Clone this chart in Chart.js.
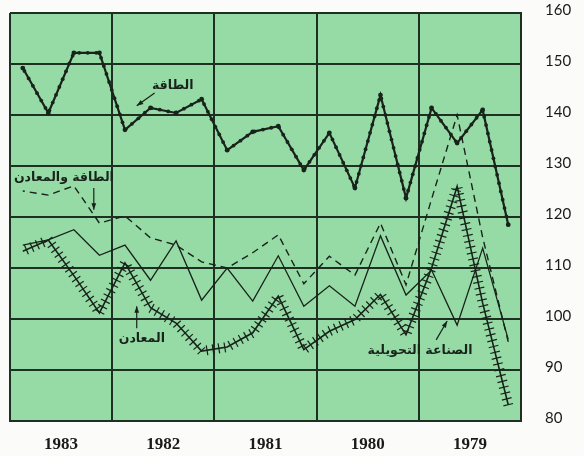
<!DOCTYPE html>
<html lang="ar">
<head>
<meta charset="utf-8">
<script src="https://cdn.jsdelivr.net/npm/chart.js@4"></script>
<style>
  html, body { margin: 0; padding: 0; background: #fbfcfa; }
  #wrap { width: 584px; height: 456px; }
</style>
</head>
<body>
<div id="wrap"><canvas id="indexChart" width="584" height="456"></canvas></div>
<script>
// سنوات المحور (من الأقدم إلى الأحدث، تُعرض من اليمين إلى اليسار)
const years = ["1979", "1980", "1981", "1982", "1983"];
// أرباع السنوات
const quarters = [];
years.forEach((y) => {
  for (let q = 1; q <= 4; q++) quarters.push(y + " ر" + q);
});
const yTicks = [80, 90, 100, 110, 120, 130, 140, 150, 160];

// الأرقام القياسية الفصلية
const energy = [118.5, 141.0, 134.5, 141.4, 123.7, 143.9, 125.7, 136.5, 129.2, 137.8,
  136.7, 133.1, 143.1, 140.4, 141.4, 137.1, 152.2, 152.2, 140.4, 149.2];
const energyMinerals = [95.5, 116, 140, 123.5, 106.7, 118.8, 108.6, 112.3, 106.9, 116.5,
  113, 110, 111.2, 114.5, 115.9, 120.2, 118.8, 126.1, 124.3, 125.1];
const manufacturing = [96, 113.9, 98.8, 109.6, 104.7, 116.3, 102.5, 106.5, 102.5, 112.4,
  103.5, 110, 103.7, 115.3, 107.6, 114.5, 112.5, 117.5, 115.5, 114.5];
const minerals = [83.2, 103.1, 126, 110, 96.9, 104.8, 99.9, 97.6, 94, 104.5,
  97.3, 94.5, 93.7, 99.2, 102.2, 111, 101.2, 108.5, 115.5, 113.3];

const ink = "#18231a";
const gridInk = "#1d3022";

// خلفية منطقة الرسم
const plotBg = {
  id: "plotBg",
  beforeDraw(chart) {
    const { ctx, chartArea: a } = chart;
    ctx.save();
    ctx.fillStyle = "#96daa6";
    ctx.fillRect(a.left, a.top, a.right - a.left, a.bottom - a.top);
    ctx.restore();
  },
};

// يمشي على مسار الخط ويستدعي fn كل step بكسل
function walkPath(pts, step, fn) {
  let carry = 0;
  for (let i = 0; i < pts.length - 1; i++) {
    const p = pts[i], n = pts[i + 1];
    const dx = n.x - p.x, dy = n.y - p.y;
    const len = Math.hypot(dx, dy);
    let d = carry;
    while (d < len) {
      fn(p.x + (dx * d) / len, p.y + (dy * d) / len, dx / len, dy / len);
      d += step;
    }
    carry = d - len;
  }
}

// نقاط خط الطاقة والشرطات العرضية لخط المعادن
const lineMarks = {
  id: "lineMarks",
  afterDatasetsDraw(chart) {
    const { ctx } = chart;
    ctx.save();
    const dots = chart.getDatasetMeta(0).data;
    ctx.fillStyle = ink;
    walkPath(dots, 8.5, (x, y) => {
      ctx.beginPath();
      ctx.arc(x, y, 1.9, 0, Math.PI * 2);
      ctx.fill();
    });
    const cross = chart.getDatasetMeta(3).data;
    ctx.strokeStyle = ink;
    ctx.lineWidth = 1.2;
    walkPath(cross, 6, (x, y, ux, uy) => {
      const h = 5;
      ctx.beginPath();
      ctx.moveTo(x - uy * h, y + ux * h);
      ctx.lineTo(x + uy * h, y - ux * h);
      ctx.stroke();
    });
    ctx.restore();
  },
};

// التسميات والأسهم
const notes = [
  { text: "الطاقة", at: [13.13, 145.7], arrow: [[13.84, 144.3], [14.54, 141.8]] },
  { text: "الطاقة والمعادن", at: [17.39, 127.6], arrow: [[16.22, 125.7], [16.22, 121.4]] },
  { text: "المعادن", at: [14.34, 96.1], arrow: [[14.54, 98.2], [14.54, 102.5]] },
  { text: "الصناعة التحويلية", at: [3.45, 93.7], arrow: [[2.82, 95.9], [2.39, 99.6]] },
];

const annotate = {
  id: "annotate",
  afterDraw(chart) {
    const { ctx } = chart;
    const sx = chart.scales.q, sy = chart.scales.y;
    const px = (p) => [sx.getPixelForValue(p[0]), sy.getPixelForValue(p[1])];
    ctx.save();
    ctx.fillStyle = ink;
    ctx.strokeStyle = ink;
    ctx.font = "bold 12.5px 'DejaVu Sans'";
    ctx.textAlign = "center";
    ctx.textBaseline = "middle";
    ctx.direction = "rtl";
    notes.forEach((n) => {
      const [tx, ty] = px(n.at);
      ctx.fillText(n.text, tx, ty);
      const [x0, y0] = px(n.arrow[0]);
      const [x1, y1] = px(n.arrow[1]);
      ctx.lineWidth = 1.2;
      ctx.beginPath();
      ctx.moveTo(x0, y0);
      ctx.lineTo(x1, y1);
      ctx.stroke();
      const ang = Math.atan2(y1 - y0, x1 - x0);
      ctx.beginPath();
      ctx.moveTo(x1, y1);
      ctx.lineTo(x1 - 7 * Math.cos(ang - 0.35), y1 - 7 * Math.sin(ang - 0.35));
      ctx.lineTo(x1 - 7 * Math.cos(ang + 0.35), y1 - 7 * Math.sin(ang + 0.35));
      ctx.closePath();
      ctx.fill();
    });
    ctx.restore();
  },
};

const ctx = document.getElementById("indexChart").getContext("2d");

new Chart(ctx, {
  type: "line",
  data: {
    labels: quarters,
    datasets: [
      {
        label: "الطاقة",
        data: energy,
        xAxisID: "q",
        borderColor: ink,
        borderWidth: 2.2,
        pointRadius: 2.4,
        pointBackgroundColor: ink,
        pointBorderWidth: 0,
        tension: 0,
      },
      {
        label: "الطاقة والمعادن",
        data: energyMinerals,
        xAxisID: "q",
        borderColor: ink,
        borderWidth: 1.4,
        borderDash: [7, 5],
        pointRadius: 0,
        tension: 0,
      },
      {
        label: "الصناعة التحويلية",
        data: manufacturing,
        xAxisID: "q",
        borderColor: ink,
        borderWidth: 1.3,
        pointRadius: 0,
        tension: 0,
      },
      {
        label: "المعادن",
        data: minerals,
        xAxisID: "q",
        borderColor: ink,
        borderWidth: 1.6,
        pointRadius: 0,
        tension: 0,
      },
    ],
  },
  options: {
    responsive: false,
    animation: false,
    events: [],
    layout: { padding: { top: 13, left: 10, right: 0, bottom: 0 } },
    plugins: { legend: { display: false }, tooltip: { enabled: false } },
    scales: {
      q: {
        type: "category",
        labels: quarters,
        offset: true,
        reverse: true,
        display: false,
      },
      x: {
        type: "category",
        labels: years,
        offset: true,
        reverse: true,
        position: "bottom",
        afterFit: (s) => {
          s.height = 35;
          s.paddingLeft = 0;
          s.paddingRight = 0;
        },
        grid: { offset: true, color: gridInk, lineWidth: 2, drawTicks: false },
        border: { color: gridInk, width: 2 },
        ticks: {
          padding: 13,
          color: "#1a1a1a",
          font: { family: "'Liberation Serif'", size: 17, weight: "bold" },
        },
      },
      y: {
        position: "right",
        min: 80,
        max: 160,
        afterFit: (s) => {
          s.width = 63;
          s.paddingTop = 0;
          s.paddingBottom = 0;
        },
        afterBuildTicks: (s) => { s.ticks = yTicks.map((v) => ({ value: v })); },
        grid: { color: gridInk, lineWidth: 2, drawTicks: false },
        border: { color: gridInk, width: 2 },
        ticks: {
          padding: 24,
          labelOffset: -3,
          color: "#1a1a1a",
          font: { family: "Lato", size: 15 },
        },
      },
    },
  },
  plugins: [plotBg, lineMarks, annotate],
});
</script>
</body>
</html>
